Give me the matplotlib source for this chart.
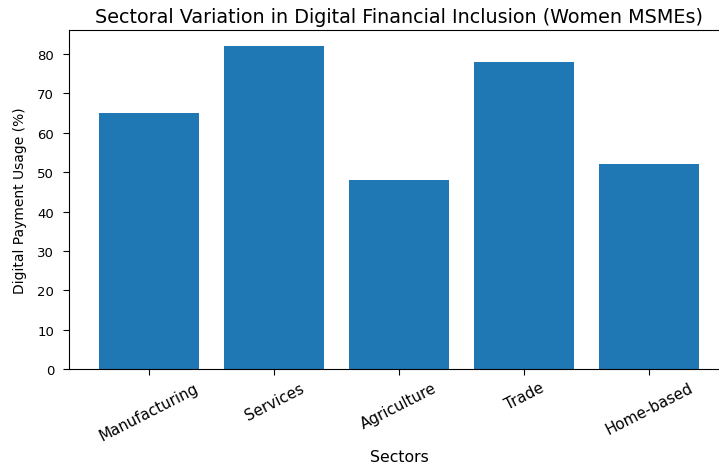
import matplotlib
matplotlib.use("Agg")
import matplotlib.pyplot as plt

# data
sectors = ["Manufacturing", "Services", "Agriculture", "Trade", "Home-based"]
usage = [65, 82, 48, 78, 52]

fig = plt.figure(figsize=(7.19, 4.64), dpi=100)
# the reference is cropped on the right, so the axes run past the edge
ax = fig.add_axes([0.096, 0.2026, 0.918, 0.7306])

ax.bar(sectors, usage, color="#1f77b4")
ax.set_title("Sectoral Variation in Digital Financial Inclusion (Women MSMEs)", fontsize=13.8)
ax.set_xlabel("Sectors", fontsize=11.3)
ax.set_ylabel("Digital Payment Usage (%)", fontsize=10)
ax.tick_params(axis="x", labelrotation=27, labelsize=10.9, length=4.3)
ax.tick_params(axis="y", labelsize=9.5, length=4.3, pad=6.5)
ax.xaxis.set_label_coords(0.5, -0.236)
ax.yaxis.set_label_coords(-0.064, 0.5)

fig.savefig("out.png", dpi=100)
